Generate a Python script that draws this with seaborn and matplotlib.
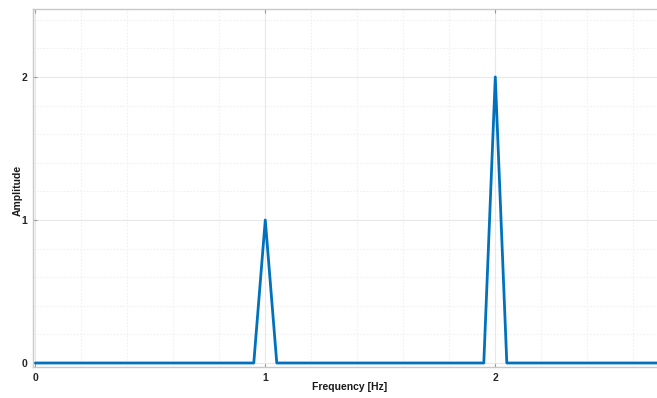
import matplotlib
matplotlib.use("Agg")
import matplotlib.pyplot as plt
import seaborn as sns
import pandas as pd
from matplotlib.ticker import MultipleLocator

# data (breakpoints of the spectrum, 0.05 Hz resolution)
freq = [0.0, 0.95, 1.0, 1.05, 1.95, 2.0, 2.05, 2.75]
amplitude = [0, 0, 1, 0, 0, 2, 0, 0]
x_ticks = [0, 1, 2]
y_ticks = [0, 1, 2]

df = pd.DataFrame({"Frequency [Hz]": freq, "Amplitude": amplitude})

sns.set_theme(style="white")
plt.rcParams['font.family'] = ['Liberation Sans', 'DejaVu Sans']

fig = plt.figure(figsize=(6.57, 3.98), dpi=100)
ax = fig.add_axes([32.5/657, 31/398, 1 - 32.5/657, (367-9)/398])

sns.lineplot(data=df, x="Frequency [Hz]", y="Amplitude", ax=ax,
             color="#0072BD", linewidth=2.0, estimator=None, sort=False)

ax.set_xlim(-0.012, 2.703)
ax.set_ylim(-0.028, 2.475)
ax.set_xticks(x_ticks)
ax.set_yticks(y_ticks)
ax.set_xticklabels([str(t) for t in x_ticks], fontweight="bold", fontsize=7.5, color="#262626")
ax.set_yticklabels([str(t) for t in y_ticks], fontweight="bold", fontsize=7.5, color="#262626")
ax.xaxis.set_minor_locator(MultipleLocator(0.2))
ax.yaxis.set_minor_locator(MultipleLocator(0.2))

ax.grid(True, which="major", color="#e8e8e8", linewidth=0.8, linestyle="-")
ax.grid(True, which="minor", color="#f0f0f0", linewidth=0.8, linestyle=(0, (1.5, 1.5)))
ax.set_axisbelow(True)

ax.tick_params(axis="both", which="major", direction="in", length=3, width=0.8,
               color="#999999", pad=4, bottom=True, left=True, top=True)
ax.tick_params(axis="both", which="minor", length=0)

for side in ["left", "bottom", "top"]:
    ax.spines[side].set_visible(True)
    ax.spines[side].set_color("#c8c8c8")
    ax.spines[side].set_linewidth(1.0)
ax.spines["right"].set_visible(False)

ax.set_xlabel("Frequency [Hz]", fontweight="bold", fontsize=7.5, color="#1a1a1a")
ax.set_ylabel("Amplitude", fontweight="bold", fontsize=7.5, color="#1a1a1a")
ax.xaxis.label.set_va("center")
ax.yaxis.label.set_va("center")
ax_w = 657 - 32.5
ax_h = 367 - 9
ax.xaxis.set_label_coords((350 - 32.5) / ax_w, (367 - 387) / ax_h)
ax.yaxis.set_label_coords((18 - 32.5) / ax_w, (367 - 190) / ax_h)

fig.savefig("out.png", dpi=100)
